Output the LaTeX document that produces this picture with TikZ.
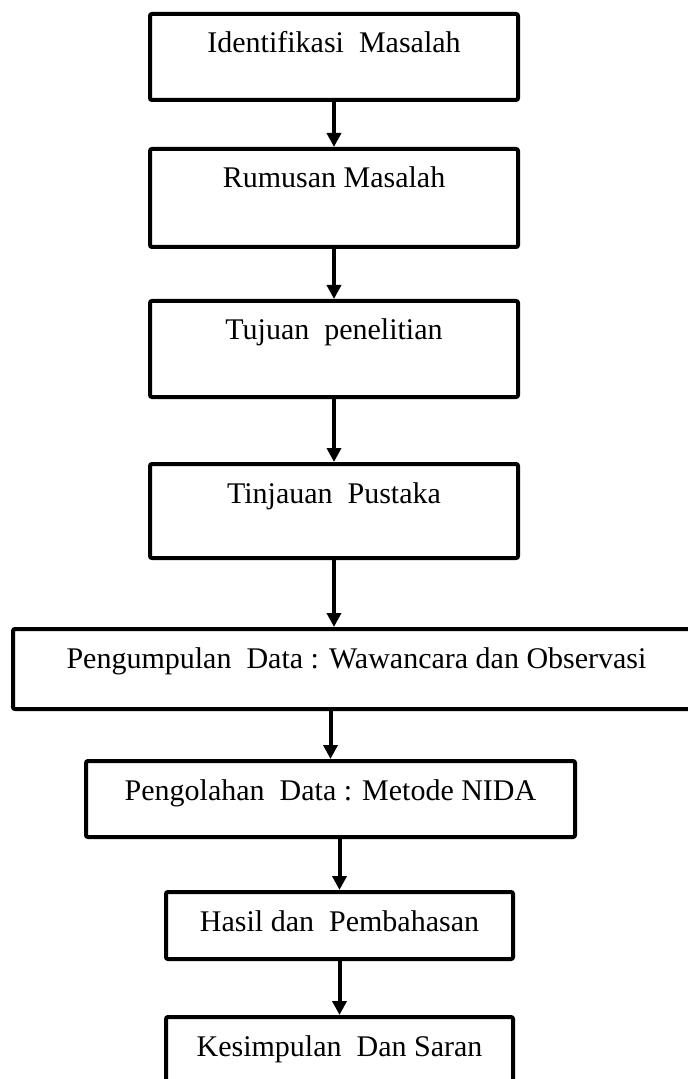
\documentclass[tikz,border=0pt]{standalone}
\usepackage{fontspec}
\setmainfont{Liberation Serif}
\usetikzlibrary{arrows.meta}

\tikzset{
	kotak/.style={draw, line width=2pt, rounded corners=1pt, inner xsep=0pt, inner ysep=0pt,
		text height=19.5pt, anchor=north, font=\fontsize{15}{18}\selectfont},
	panah/.style={-{Triangle[width=7pt,length=7pt]}, line width=2pt}
}

\begin{document}
\begin{tikzpicture}[x=0.5pt,y=-0.5pt]
	
		\useasboundingbox (0,0) rectangle (688,1079);
		\clip (0,0) rectangle (688,1079);
		
		\node[kotak, minimum width=184pt, text depth=23.5pt] (ident) at (334,12) {Identifikasi~ Masalah};
		\node[kotak, minimum width=184pt, text depth=29.5pt] (rumus) at (334,147) {Rumusan Masalah};
		\node[kotak, minimum width=184pt, text depth=28.5pt] (tujuan) at (334,299) {Tujuan~ penelitian};
		\node[kotak, minimum width=184pt, text depth=27.5pt] (tinjau) at (334,462) {Tinjauan~ Pustaka};
		\node[kotak, minimum width=343.5pt, text depth=20.5pt] (kumpul) at (356.5,627) {Pengumpulan~ Data : Wawancara dan Observasi};
		\node[kotak, minimum width=244.5pt, text depth=18.5pt] (olah) at (330.5,759) {Pengolahan~ Data : Metode NIDA};
		\node[kotak, minimum width=173.5pt, text depth=14pt] (hasil) at (339.5,890) {Hasil dan~ Pembahasan};
		\node[kotak, minimum width=173.5pt, text depth=30pt] (simpul) at (339.5,1015) {Kesimpulan~ Dan Saran};
		
		\draw[panah] (ident.south) -- (rumus.north);
		\draw[panah] (rumus.south) -- (tujuan.north);
		\draw[panah] (tujuan.south) -- (tinjau.north);
		\draw[panah] (tinjau.south) -- (tinjau.south |- kumpul.north);
		\draw[panah] (kumpul.south -| olah.north) -- (olah.north);
		\draw[panah] (olah.south -| hasil.north) -- (hasil.north);
		\draw[panah] (hasil.south) -- (simpul.north);
		
\end{tikzpicture}
\end{document}
